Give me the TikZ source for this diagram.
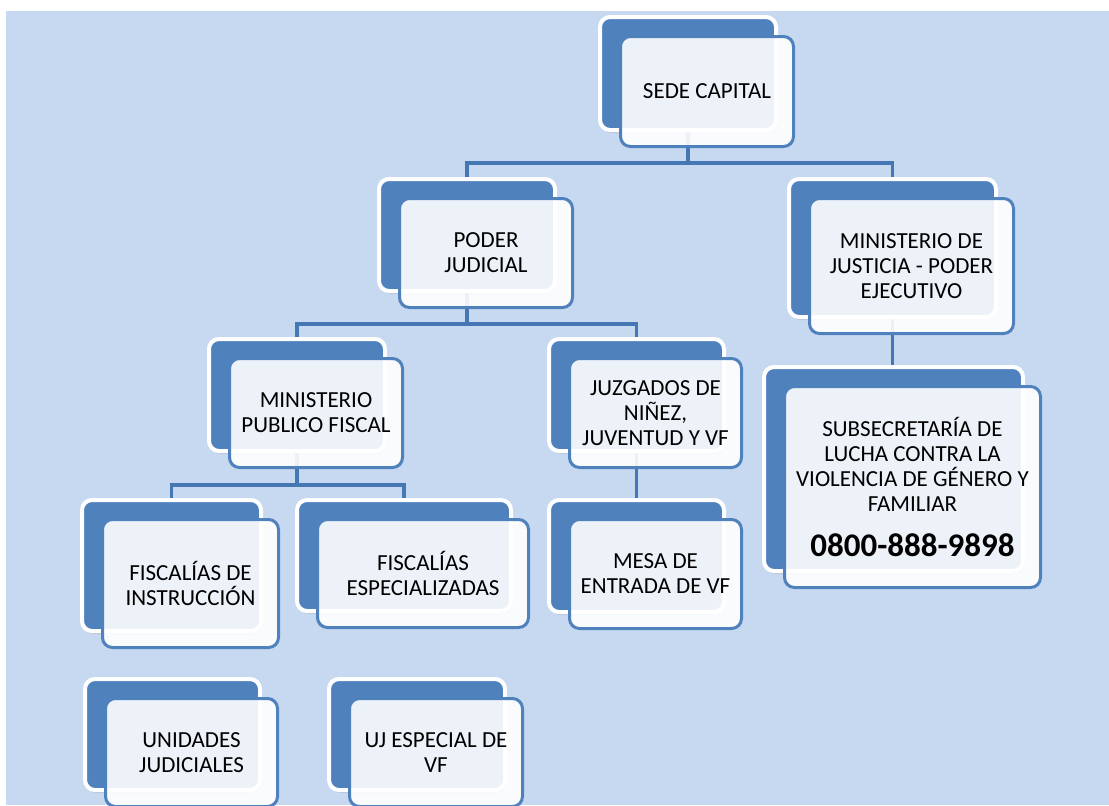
\documentclass[tikz,border=0pt]{standalone}
\usepackage{fontspec}
\setmainfont{Carlito}
\usepackage{xcolor}
\usepackage{tikz}
\usetikzlibrary{backgrounds}
\usetikzlibrary{shadows}
\definecolor{bgblue}{HTML}{C6D9F1}
\definecolor{boxblue}{HTML}{4F81BD}
\definecolor{linkblue}{HTML}{4677B5}

\tikzset{
  backbox/.style={rectangle, rounded corners=5pt, fill=boxblue, draw=white, line width=2pt,
    drop shadow={opacity=0.25, shadow xshift=1pt, shadow yshift=-1.5pt}},
  frontbox/.style={rectangle, rounded corners=5pt, fill=white, fill opacity=0.9, text opacity=1,
    draw=boxblue, line width=1.5pt, align=center, inner sep=0pt,
    font=\fontsize{11.5}{12.5}\selectfont},
  link/.style={draw=linkblue, line width=1.8pt},
}

\begin{document}
\begin{tikzpicture}[x=0.5pt,y=-0.5pt]
\useasboundingbox (0,0) rectangle (1109,805);
% boxes: name/x/y/width/height/text
\foreach \n/\x/\y/\w/\h/\t in {
    sede/688/73.5/88/56.5/{SEDE CAPITAL},
    poder/467/235/88/56/{PODER\\JUDICIAL},
    minj/892.5/248/103.5/69/{MINISTERIO DE\\JUSTICIA - PODER\\EJECUTIVO},
    mpf/297/395/88/56/{MINISTERIO\\PUBLICO FISCAL},
    juz/636.5/395/87.5/56/{JUZGADOS DE\\NIÑEZ,\\JUVENTUD Y VF},
    sub/893.5/469/129.5/102/{SUBSECRETARÍA DE\\LUCHA CONTRA LA\\VIOLENCIA DE GÉNERO Y\\FAMILIAR\\[10pt]{\fontsize{16.5}{20}\selectfont\bfseries 0800-888-9898}},
    fisci/171.5/565.5/89.5/65.5/{FISCALÍAS DE\\INSTRUCCIÓN},
    fisce/404/555.5/107/55.5/{FISCALÍAS\\ESPECIALIZADAS},
    mesa/636.5/556/87.5/56/{MESA DE\\ENTRADA DE VF},
    unid/172.5/734.5/87.5/55.5/{UNIDADES\\JUDICIALES},
    uj/417/734.5/88/55.5/{UJ ESPECIAL DE\\VF}}
{
  \node[backbox, minimum width=\w pt, minimum height=\h pt] (\n B) at (\x,\y) {};
  \node[frontbox, minimum width=\w pt-1.5pt, minimum height=\h pt-1.5pt] (\n) at (\x+19,\y+18) {\t};
}
\coordinate (bus1) at (0,163);
\coordinate (bus2) at (0,324);
\coordinate (bus3) at (0,485);
\begin{scope}[on background layer]
  \fill[white] (0,0) rectangle (1109,805);
  \fill[bgblue] (6,11) rectangle (1109,805);
  % connectors
  \draw[link] (sedeB.south) -- (sedeB.south |- bus1) -| (poderB.north);
  \draw[link] (sedeB.south |- bus1) -| (minjB.north);
  \draw[link] (poderB.south) -- (poderB.south |- bus2) -| (mpfB.north);
  \draw[link] (poderB.south |- bus2) -| (juzB.north);
  \draw[link] (mpfB.south) -- (mpfB.south |- bus3) -| (fisciB.north);
  \draw[link] (mpfB.south |- bus3) -| (fisceB.north);
  \draw[link] (minjB.south) -- (minjB.south |- subB.north);
  \draw[link] (juzB.south) -- (juzB.south |- mesaB.north);
\end{scope}
\end{tikzpicture}
\end{document}
